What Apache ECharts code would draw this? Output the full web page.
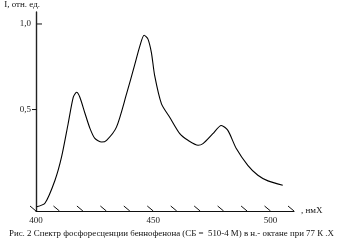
<!DOCTYPE html>
<html><head><meta charset="utf-8">
<script src="https://cdn.jsdelivr.net/npm/echarts@6/dist/echarts.min.js"></script>
<style>html,body{margin:0;padding:0;background:#fff}#c{width:337px;height:249px}</style>
</head><body><div id="c"></div>
<script>
const wavelengths = [400.3,403.8,408.1,410.9,413.7,415.9,417.3,418.7,420.9,423.0,425.1,428.0,430.1,434.3,438.6,442.1,444.3,446.1,447.7,449.2,450.6,453.5,457.0,461.3,464.8,469.1,471.2,475.4,479.0,481.8,485.4,490.3,494.6,498.9,505.2];
const intensity   = [-0.068,-0.048,0.087,0.223,0.417,0.572,0.601,0.572,0.477,0.390,0.331,0.310,0.320,0.397,0.591,0.762,0.872,0.934,0.913,0.833,0.698,0.533,0.455,0.359,0.320,0.291,0.301,0.359,0.407,0.378,0.272,0.174,0.116,0.083,0.058];
const xTicks = [400,410,420,430,440,450,460,470,480,490,500,510];
const xLabels = [400,450,500];
const yLabels = [0.5,1.0];
const xName = ', нмX';
const yName = 'I, отн. ед.';
const caption = 'Рис. 2 Спектр фосфоресценции беннофенона (СБ =  510-4 М) в н.- октане при 77 К .Х';

const X_MIN = 400, X_MAX = 510, Y_MIN = -0.093, Y_MAX = 1.07;
const serif = '"Liberation Serif","DejaVu Serif",serif';
const chart = echarts.init(document.getElementById('c'), null, {renderer:'canvas'});
chart.setOption({
  animation:false,
  backgroundColor:'#fff',
  title:{text:caption,left:4,bottom:6,textStyle:{fontSize:8.9,fontFamily:serif,fontWeight:'normal',color:'#111'}},
  grid:{left:36,right:43,top:11,bottom:38},
  xAxis:{type:'value',min:X_MIN,max:X_MAX,
    name:xName,nameLocation:'end',nameGap:7,nameTextStyle:{fontSize:9,fontFamily:serif,color:'#111',verticalAlign:'middle'},
    axisLine:{onZero:false,lineStyle:{color:'#111',width:1.2}},axisTick:{show:false},splitLine:{show:false},
    axisLabel:{customValues:xLabels,fontSize:9,fontFamily:serif,color:'#222',margin:5}},
  yAxis:{type:'value',min:Y_MIN,max:Y_MAX,
    name:yName,nameLocation:'end',nameGap:3,nameTextStyle:{fontSize:9,fontFamily:serif,color:'#111',align:'right',verticalAlign:'bottom',padding:[0,-4,0,0]},
    axisLine:{show:true,onZero:false,lineStyle:{color:'#222',width:1.4}},axisTick:{show:false},splitLine:{show:false},
    axisLabel:{customValues:yLabels,fontSize:9,fontFamily:serif,color:'#222',margin:5,formatter:v=>v.toFixed(1).replace('.',',')}},
  series:[
    {type:'line',data:wavelengths.map((w,i)=>[w,intensity[i]]),smooth:0.25,symbol:'none',
     lineStyle:{color:'#000',width:1.1}},
    {type:'custom',clip:false,silent:true,data:xTicks.map(t=>[t]),
     renderItem:(params,api)=>{const p=api.coord([api.value(0),Y_MIN]);
       return {type:'line',shape:{x1:p[0]-6,y1:p[1]-5,x2:p[0],y2:p[1]},style:{stroke:'#111',lineWidth:1}};}},
    {type:'custom',clip:false,silent:true,data:yLabels.map(v=>[X_MIN,v]),
     renderItem:(params,api)=>{const p=api.coord([api.value(0),api.value(1)]);const d=api.value(1)>0.75?5:-5;
       return {type:'line',shape:{x1:p[0]+1,y1:p[1],x2:p[0]+1+d,y2:p[1]},style:{stroke:'#111',lineWidth:1}};}}
  ]
});
</script></body></html>
